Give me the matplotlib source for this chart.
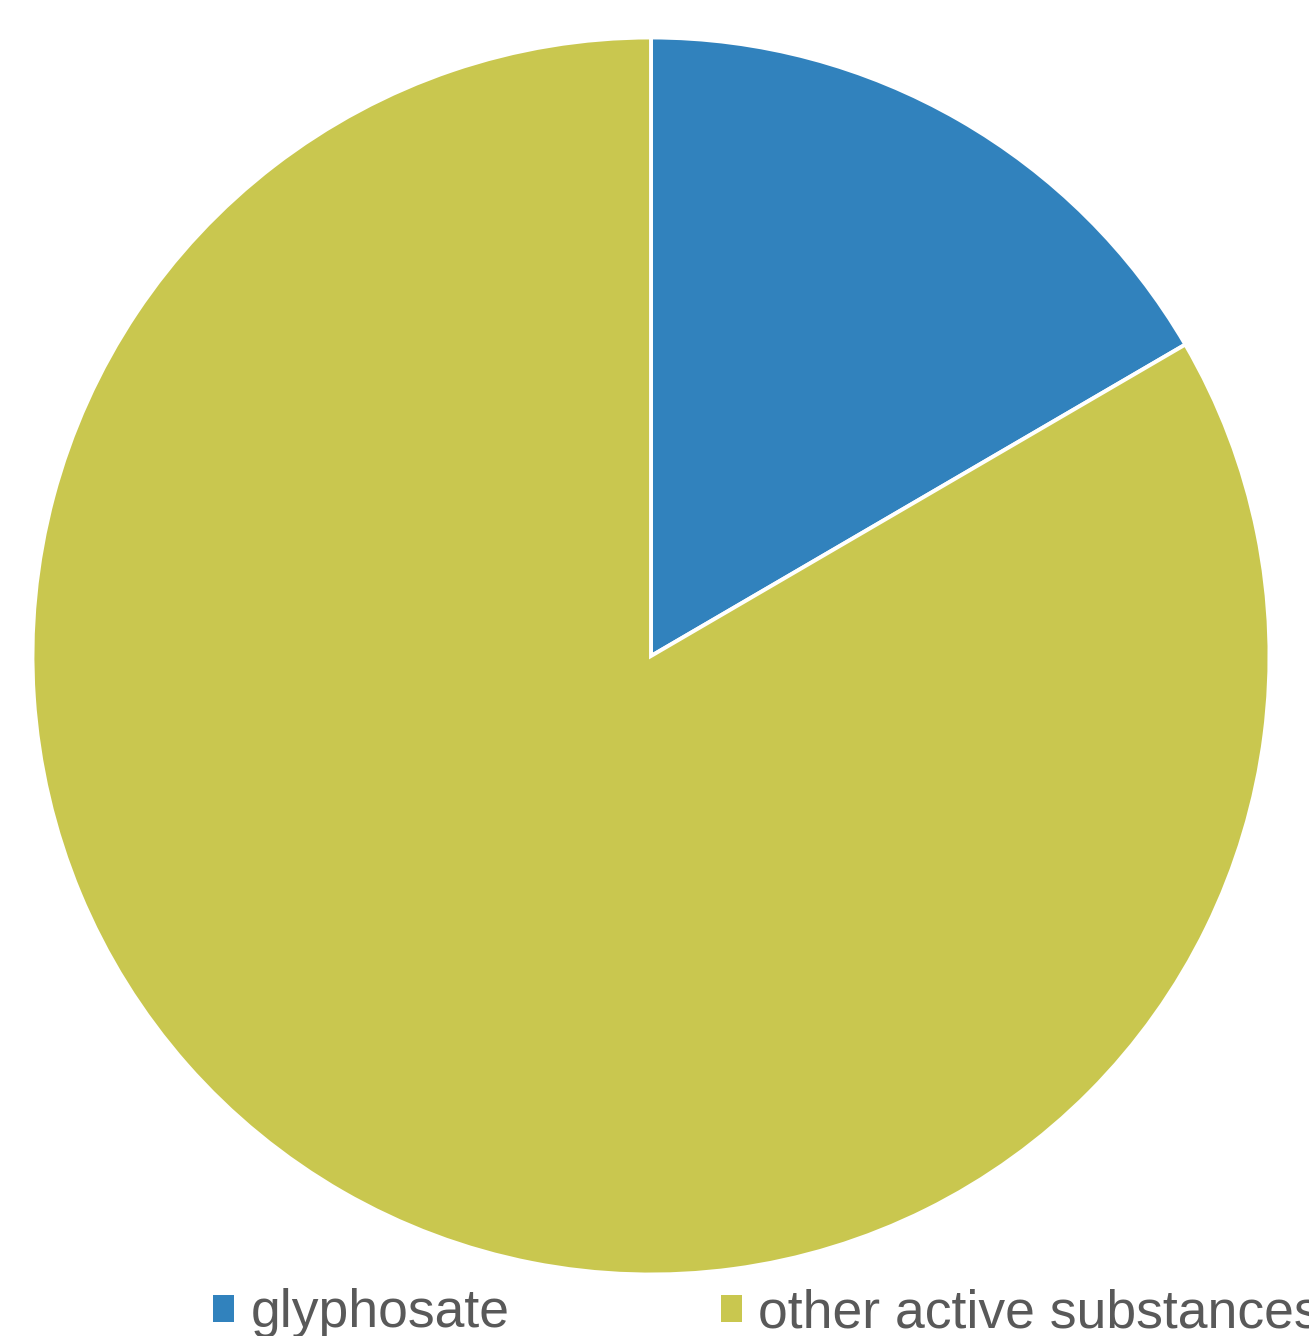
import matplotlib.pyplot as plt
from matplotlib.patches import Patch

# data
labels = ['glyphosate', 'other active substances']
shares = [16.6, 83.4]
colors = ['#3182BD', '#C9C74F']

plt.rcParams['font.family'] = ['Liberation Sans', 'DejaVu Sans']

fig = plt.figure(figsize=(13.09, 13.36), dpi=100)
# pie area, a bit bigger to make up for the white edge
ax = fig.add_axes([32.5 / 1309, 61.5 / 1336, 1237 / 1309, 1237 / 1336])

ax.pie(shares, colors=colors, startangle=90, counterclock=False,
       radius=1, wedgeprops=dict(edgecolor='white', linewidth=2.8))
ax.set_xlim(-1, 1)
ax.set_ylim(-1, 1)
ax.set_aspect('equal')
ax.axis('off')

handles = [Patch(facecolor=c, edgecolor='none') for c in colors]
fig.legend(handles, labels, loc='center left', bbox_to_anchor=(0.1627, 0.017),
           ncol=2, frameon=False, fontsize=38.5, labelcolor='#595959',
           handlelength=0.4, handleheight=0.4, handletextpad=0.3,
           columnspacing=3.95, borderpad=0, borderaxespad=0)

fig.savefig('out.png', dpi=100)
